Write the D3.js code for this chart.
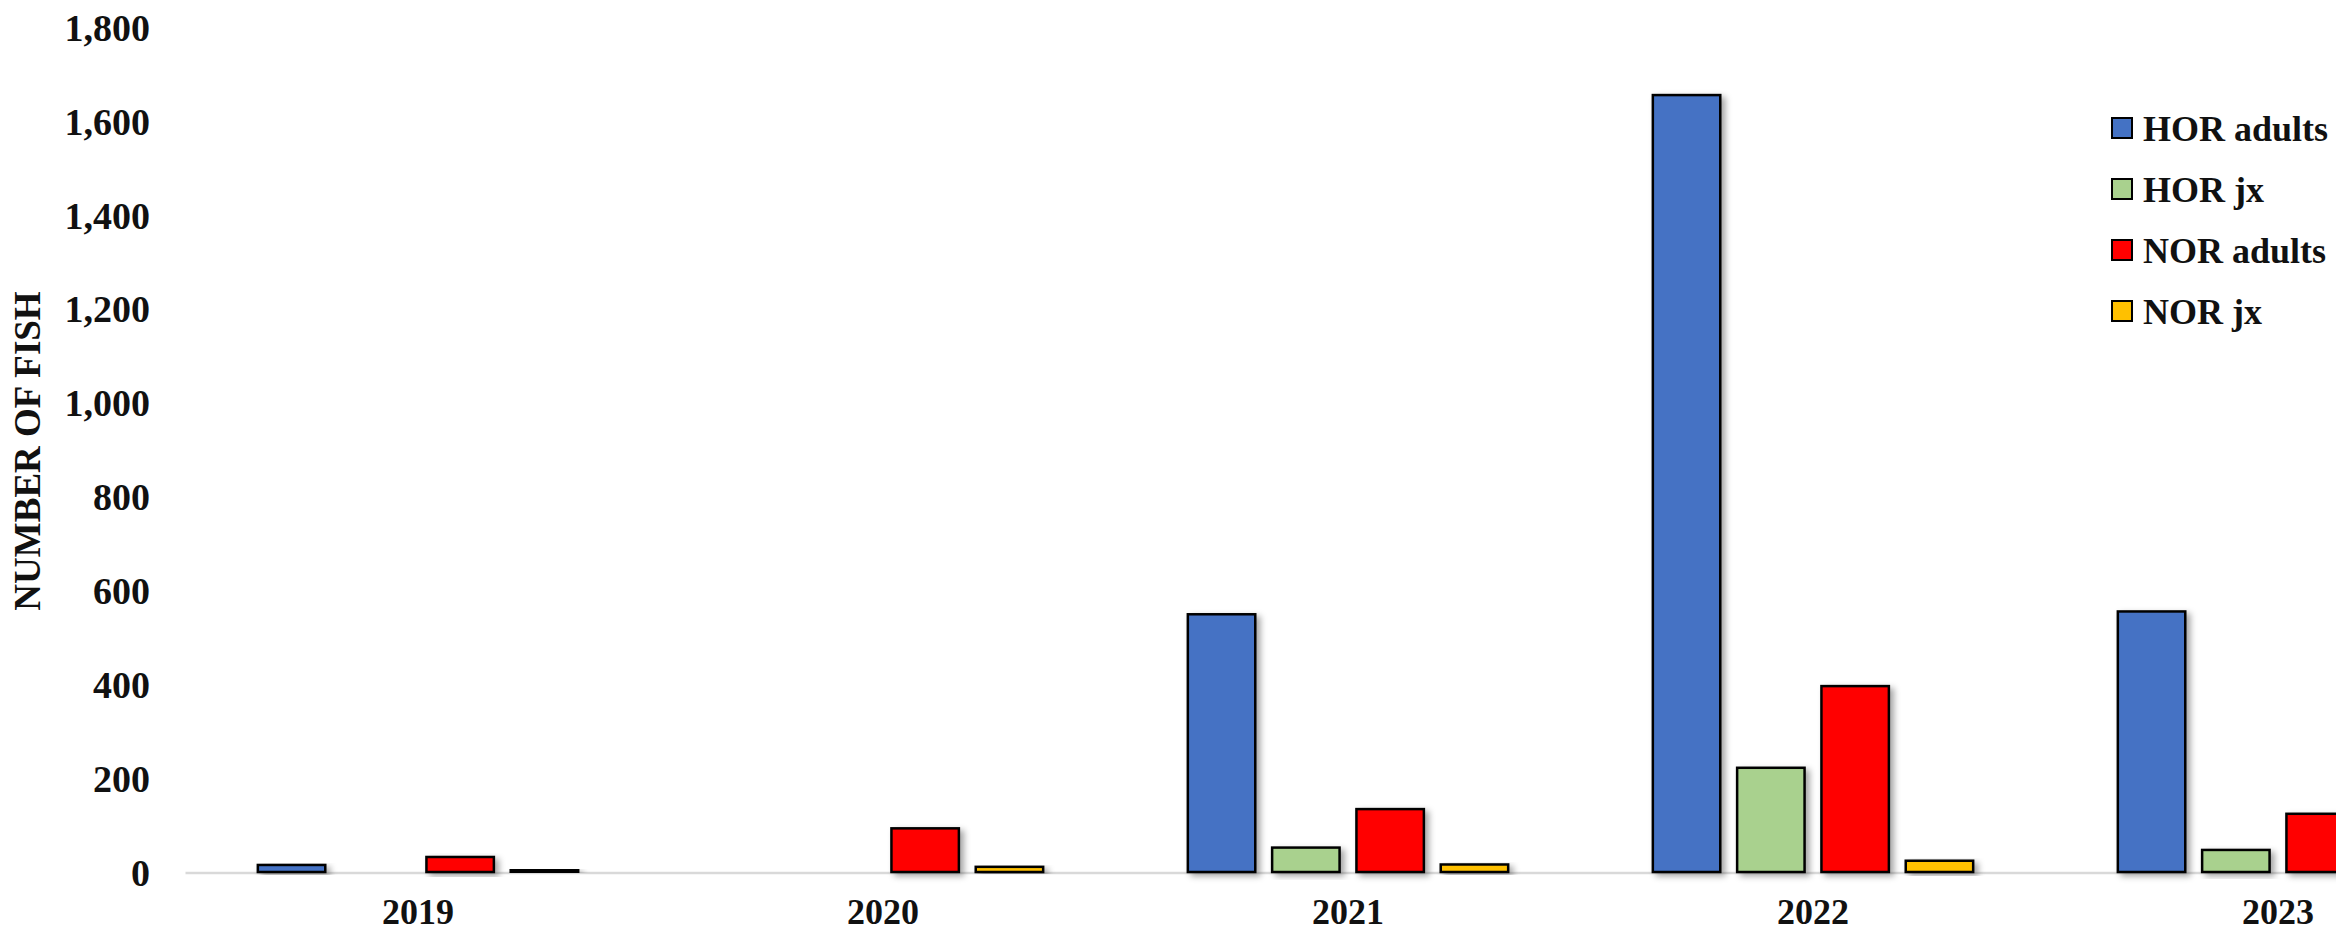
<!DOCTYPE html>
<html>
<head>
<meta charset="utf-8">
<script src="https://cdn.jsdelivr.net/npm/d3@7"></script>
<style>
  html, body { margin: 0; padding: 0; background: #fff; overflow: hidden; }
  svg { display: block; }
  text { font-family: "Liberation Serif", "Times New Roman", serif; font-weight: bold; fill: #111; }
</style>
</head>
<body>
<svg id="chart" width="2336" height="934"></svg>
<script>
const years = ["2019", "2020", "2021", "2022", "2023"];
const seriesNames = ["HOR adults", "HOR jx", "NOR adults", "NOR jx"];
const horAdults = [15, 0, 549, 1655, 555];
const horJx = [0, 0, 52, 222, 47];
const norAdults = [32, 93, 134, 396, 124];
const norJx = [5, 11, 16, 24, 14];
const seriesColors = ["#4472C4", "#A9D18E", "#FF0000", "#FFC000"];
const yTicks = [0, 200, 400, 600, 800, 1000, 1200, 1400, 1600, 1800];
const yTitle = "NUMBER OF FISH";

const seriesValues = [horAdults, horJx, norAdults, norJx];

const svg = d3.select("#chart");

const defs = svg.append("defs");
const f = defs.append("filter").attr("id", "shadow")
  .attr("x", "-20%").attr("y", "-20%").attr("width", "150%").attr("height", "150%");
f.append("feDropShadow").attr("dx", 4).attr("dy", 3).attr("stdDeviation", 3)
  .attr("flood-color", "#000").attr("flood-opacity", 0.35);

const x0 = d3.scaleBand().domain(years).range([185.5, 185.5 + 5 * 465]).padding(0);
const pitch = 84.3;
const x1 = d3.scaleBand().domain(seriesNames)
  .range([-2 * pitch, 2 * pitch]).paddingInner(0.2).paddingOuter(0.1);
const y = d3.scaleLinear().domain([0, 1800]).range([872, 27]);

// baseline
svg.append("line")
  .attr("x1", x0.range()[0]).attr("x2", x0.range()[1])
  .attr("y1", y(0) + 1).attr("y2", y(0) + 1)
  .attr("stroke", "#d9d9d9").attr("stroke-width", 2.5);

// y axis (labels only)
const yAxis = d3.axisLeft(y).tickValues(yTicks).tickSize(0).tickPadding(0)
  .tickFormat(d3.format(","));
const gy = svg.append("g").attr("transform", "translate(150,0)").call(yAxis);
gy.select(".domain").remove();
gy.selectAll("text")
  .style("font-family", '"Liberation Serif", serif')
  .style("font-weight", "bold").style("font-size", "38px").attr("fill", "#111")
  .attr("dy", "0.35em");

// x axis labels
const xAxis = d3.axisBottom(x0).tickSize(0).tickPadding(0);
const gx = svg.append("g").attr("transform", "translate(0,924)").call(xAxis);
gx.select(".domain").remove();
gx.selectAll("text")
  .style("font-family", '"Liberation Serif", serif')
  .style("font-weight", "bold").style("font-size", "36px").attr("fill", "#111")
  .attr("dy", "0");

// bars
const groups = svg.append("g").selectAll("g").data(years).join("g")
  .attr("transform", d => `translate(${x0(d) + x0.bandwidth() / 2},0)`);
groups.selectAll("rect")
  .data((d, i) => seriesNames.map((s, j) => ({ s, j, v: seriesValues[j][i] })).filter(e => e.v > 0))
  .join("rect")
  .attr("x", d => x1(d.s))
  .attr("width", x1.bandwidth())
  .attr("y", d => y(d.v))
  .attr("height", d => y(0) - y(d.v))
  .attr("fill", d => seriesColors[d.j])
  .attr("stroke", "#000").attr("stroke-width", 2.5)
  .attr("filter", "url(#shadow)");

// y title
svg.append("text")
  .attr("transform", "translate(40,451) rotate(-90)")
  .attr("text-anchor", "middle")
  .style("font-size", "37px")
  .text(yTitle);

// legend
const legend = svg.append("g").selectAll("g").data(seriesNames).join("g")
  .attr("transform", (d, i) => `translate(2112,${128 + i * 61})`);
legend.append("rect")
  .attr("x", 0).attr("y", -10).attr("width", 20).attr("height", 20)
  .attr("fill", (d, i) => seriesColors[i]).attr("stroke", "#000").attr("stroke-width", 2);
legend.append("text")
  .attr("x", 31).attr("y", 0).attr("dy", "0.35em")
  .style("font-size", "36px")
  .text(d => d);
</script>
</body>
</html>
